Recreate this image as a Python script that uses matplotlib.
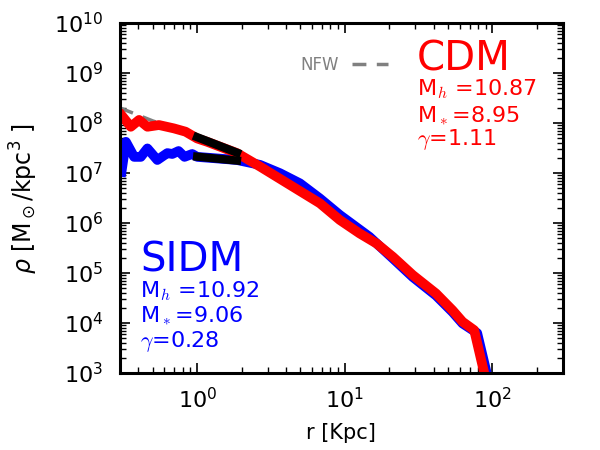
import numpy as np
import matplotlib
matplotlib.use("Agg")
import matplotlib.pyplot as plt
from matplotlib.ticker import LogLocator, NullFormatter

# density profiles (r in kpc, rho in Msun/kpc^3)
cdm_r = [0.309, 0.355, 0.404, 0.460, 0.551, 0.695, 0.834, 1.0, 1.17, 1.86, 2.67, 4.26,
         6.78, 9.25, 12.6, 16.4, 21.2, 28.9, 41.5, 53.7, 62.8, 75.3, 92.0]
cdm_rho = [1.4e8, 8.4e7, 1.15e8, 8.4e7, 9.1e7, 7.8e7, 6.7e7, 4.9e7, 4.2e7, 2.5e7, 1.34e7, 5.75e6,
           2.48e6, 1.15e6, 6.2e5, 3.9e5, 2.1e5, 9.1e4, 3.9e4, 1.8e4, 1.06e4, 7.2e3, 5.8e2]

sidm_r = [0.307, 0.329, 0.374, 0.415, 0.460, 0.537, 0.628, 0.678, 0.748, 0.821, 0.925, 1.0,
          1.86, 2.67, 3.64, 4.97, 6.78, 9.25, 14.7, 21.2, 28.9, 41.5, 53.7, 62.8, 78.9, 95.0]
sidm_rho = [1.05e7, 4.2e7, 2.1e7, 2.1e7, 3.1e7, 1.82e7, 2.5e7, 2.4e7, 2.75e7, 2.1e7, 2.4e7, 2.1e7,
            1.82e7, 1.45e7, 9.9e6, 6.2e6, 3.1e6, 1.45e6, 5.3e5, 1.95e5, 8.3e4, 3.55e4, 1.66e4, 9.8e3, 6.3e3, 6.3e2]

nfw_r = [0.3, 0.5, 1.0, 2.0, 5.0, 10.0, 20.0, 50.0, 85.7]
nfw_rho = [2.0e8, 1.1e8, 5.5e7, 2.5e7, 4.3e6, 1.0e6, 2.4e5, 2.2e4, 5.3e3]

# inner power-law fits
fit_r = [1.0, 1.86]
cdm_fit = [5.2e7, 2.55e7]
sidm_fit = [2.12e7, 1.77e7]

xticks = [1, 10, 100]
yticks = [1e3, 1e4, 1e5, 1e6, 1e7, 1e8, 1e9, 1e10]

cdm_info = ["CDM", r"M$_h$ =10.87", r"M$_*$=8.95", r"$\gamma$=1.11"]
sidm_info = ["SIDM", r"M$_h$ =10.92", r"M$_*$=9.06", r"$\gamma$=0.28"]

fig = plt.figure(figsize=(6, 4.5), dpi=100)
ax = fig.add_axes([0.2, 0.171, 0.738, 0.778])

nfw_line, = ax.plot(nfw_r, nfw_rho, color="gray", lw=2.5, ls=(0, (4, 3)), label="NFW")
ax.plot(sidm_r, sidm_rho, color="blue", lw=7, solid_joinstyle="round")
ax.plot(cdm_r, cdm_rho, color="red", lw=7, solid_joinstyle="round")
ax.plot(fit_r, cdm_fit, color="black", lw=6)
ax.plot(fit_r, sidm_fit, color="black", lw=6)

ax.set_xscale("log")
ax.set_yscale("log")
ax.set_xticks(xticks)
ax.set_yticks(yticks)
ax.yaxis.set_minor_locator(LogLocator(base=10, subs=np.arange(2, 10), numticks=20))
ax.yaxis.set_minor_formatter(NullFormatter())
ax.xaxis.set_minor_formatter(NullFormatter())
ax.set_xlim(0.3, 300)
ax.set_ylim(1e3, 1e10)

ax.set_xlabel("r [Kpc]", fontsize=15, labelpad=8)
ax.set_ylabel(r"$\rho$ [M$_\odot$/kpc$^3$ ]", fontsize=17, labelpad=10)

ax.tick_params(which="both", direction="in", top=True, right=True, labelsize=16)
ax.tick_params(axis="x", which="major", pad=10)
ax.tick_params(axis="y", which="major", pad=12)
ax.tick_params(which="major", length=7, width=1.2)
ax.tick_params(which="minor", length=4, width=1)
for s in ax.spines.values():
    s.set_linewidth(2.2)

leg = ax.legend(handles=[nfw_line], loc="center right", bbox_to_anchor=(0.64, 0.88),
                frameon=False, markerfirst=False, fontsize=12, handlelength=2.2,
                labelcolor="gray")

# annotations
ys = [0.865, 0.794, 0.717, 0.651]
for i, t in enumerate(cdm_info):
    ax.text(0.67, ys[i], t, color="red", fontsize=29 if i == 0 else 16,
            transform=ax.transAxes, va="baseline", ha="left", math_fontfamily="cm")
ys = [0.29, 0.217, 0.146, 0.074]
for i, t in enumerate(sidm_info):
    ax.text(0.045, ys[i], t, color="blue", fontsize=29 if i == 0 else 16,
            transform=ax.transAxes, va="baseline", ha="left", math_fontfamily="cm")

fig.savefig("out.png", dpi=100)
